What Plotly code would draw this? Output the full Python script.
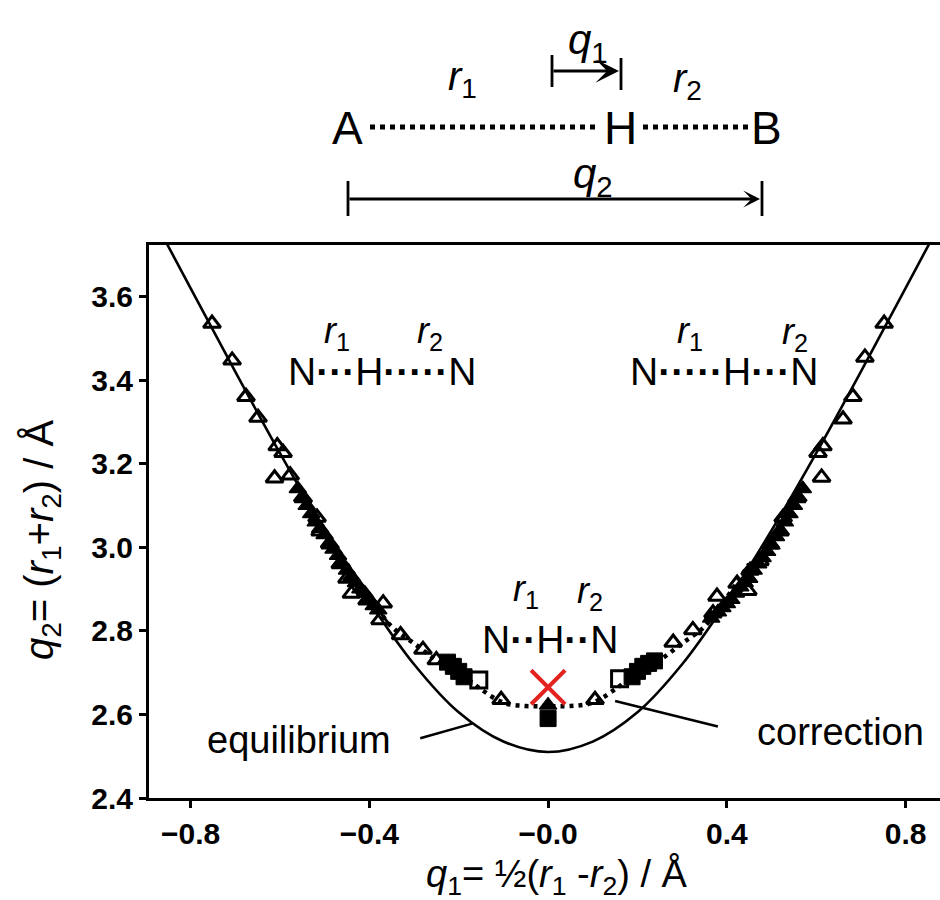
import plotly.graph_objects as go

# ---------------- data ----------------
eq_q1 = [-0.90, -0.80, -0.70, -0.60, -0.50, -0.40, -0.30, -0.20, -0.10, 0.00,
         0.10, 0.20, 0.30, 0.40, 0.50, 0.60, 0.70, 0.80, 0.90]
eq_q2 = [3.82, 3.62, 3.42, 3.225, 3.04, 2.87, 2.72, 2.605, 2.535, 2.51,
         2.535, 2.605, 2.72, 2.87, 3.04, 3.225, 3.42, 3.62, 3.82]

cor_q1 = [-0.45, -0.40, -0.35, -0.30, -0.25, -0.20, -0.15, -0.10, -0.05, 0.00,
          0.05, 0.10, 0.15, 0.20, 0.25, 0.30, 0.35, 0.40, 0.45]
cor_q2 = [2.96, 2.88, 2.81, 2.77, 2.73, 2.70, 2.66, 2.628, 2.62, 2.62,
          2.62, 2.628, 2.66, 2.70, 2.73, 2.77, 2.81, 2.88, 2.96]

tri_open_q1 = [-0.752, -0.707, -0.676, -0.649, -0.606, -0.593, -0.612, -0.577, -0.548,
               -0.517, -0.510, -0.488, -0.465, -0.450, -0.440, -0.405, -0.369, -0.376,
               -0.330, -0.280, -0.250, -0.105,
               0.752, 0.709, 0.682, 0.660, 0.615, 0.604, 0.612, 0.557, 0.526, 0.519,
               0.497, 0.474, 0.452, 0.447, 0.423, 0.378, 0.369, 0.324, 0.280, 0.105]
tri_open_q2 = [3.535, 3.447, 3.360, 3.310, 3.242, 3.226, 3.165, 3.172, 3.118,
               3.071, 3.038, 3.007, 2.960, 2.925, 2.889, 2.873, 2.866, 2.826,
               2.790, 2.755, 2.730, 2.635,
               3.535, 3.454, 3.360, 3.306, 3.242, 3.226, 3.167, 3.118, 3.071, 3.038,
               3.007, 2.967, 2.944, 2.896, 2.913, 2.882, 2.842, 2.802, 2.772, 2.635]

tri_fill_q1 = [-0.560, -0.550, -0.540, -0.530, -0.520, -0.510, -0.500, -0.490, -0.480,
               -0.470, -0.460, -0.450, -0.440, -0.430, -0.420, -0.410, -0.400, -0.390,
               -0.380,
               0.570, 0.560, 0.550, 0.540, 0.530, 0.520, 0.510, 0.500, 0.490, 0.480,
               0.470, 0.460, 0.450, 0.440, 0.430, 0.420, 0.410, 0.400, 0.390, 0.380,
               0.365, 0.000]
tri_fill_q2 = [3.140, 3.120, 3.100, 3.080, 3.060, 3.045, 3.030, 3.010, 2.995,
               2.980, 2.960, 2.945, 2.930, 2.915, 2.900, 2.890, 2.875, 2.860,
               2.850,
               3.140, 3.120, 3.100, 3.080, 3.060, 3.040, 3.025, 3.005, 2.990, 2.975,
               2.960, 2.945, 2.925, 2.915, 2.905, 2.890, 2.875, 2.865, 2.855, 2.845,
               2.830, 2.622]

sq_fill_q1 = [-0.225, -0.212, -0.200, -0.188, 0.188, 0.200, 0.212, 0.225, 0.238, 0.000]
sq_fill_q2 = [2.725, 2.715, 2.703, 2.690, 2.690, 2.703, 2.715, 2.722, 2.728, 2.590]

sq_open_q1 = [-0.155, 0.160]
sq_open_q2 = [2.682, 2.685]

x_mark_q1 = [0.0]
x_mark_q2 = [2.665]

x_ticks = [-0.8, -0.4, 0.0, 0.4, 0.8]
x_ticktext = ["\u22120.8", "\u22120.4", "\u22120.0", "0.4", "0.8"]
y_ticks = [2.4, 2.6, 2.8, 3.0, 3.2, 3.4, 3.6]
y_ticktext = ["2.4", "2.6", "2.8", "3.0", "3.2", "3.4", "3.6"]

# ---------------- layout geometry ----------------
W, H = 940, 900
L, R, T, B = 149, 0, 245, 102
PW, PH = W - L - R, H - T - B
X_RANGE = [-0.893, 0.877]
Y_RANGE = [2.4, 2.4 + PH / 418.0]


def ppx(px):
    return (px - L) / PW


def ppy(py):
    return (H - B - py) / PH


TXT = "Liberation Sans, Arial, sans-serif"
TICKF = "Liberation Sans Narrow, Arial Narrow, Liberation Sans, sans-serif"
BLACK = "black"

fig = go.Figure()

fig.add_trace(go.Scatter(x=eq_q1, y=eq_q2, mode="lines",
                         line=dict(color=BLACK, width=2.6, shape="spline"),
                         hoverinfo="skip", showlegend=False))
fig.add_trace(go.Scatter(x=cor_q1, y=cor_q2, mode="lines",
                         line=dict(color=BLACK, width=4.5, dash="4px,5px", shape="spline"),
                         hoverinfo="skip", showlegend=False))
fig.add_trace(go.Scatter(x=tri_fill_q1, y=tri_fill_q2, mode="markers",
                         marker=dict(symbol="triangle-up", size=15, color=BLACK,
                                     line=dict(color=BLACK, width=1.5)),
                         showlegend=False))
fig.add_trace(go.Scatter(x=tri_open_q1, y=tri_open_q2, mode="markers",
                         marker=dict(symbol="triangle-up-open", size=15, color=BLACK,
                                     line=dict(color=BLACK, width=3)),
                         showlegend=False))
fig.add_trace(go.Scatter(x=sq_fill_q1, y=sq_fill_q2, mode="markers",
                         marker=dict(symbol="square", size=16, color=BLACK,
                                     line=dict(color=BLACK, width=1)),
                         showlegend=False))
fig.add_trace(go.Scatter(x=sq_open_q1, y=sq_open_q2, mode="markers",
                         marker=dict(symbol="square-open", size=16, color=BLACK,
                                     line=dict(color=BLACK, width=3)),
                         showlegend=False))
fig.add_trace(go.Scatter(x=x_mark_q1, y=x_mark_q2, mode="markers",
                         marker=dict(symbol="x-thin-open", size=34, color="#e3231f",
                                     line=dict(color="#e3231f", width=4)),
                         showlegend=False))

shapes = []
annotations = []

# pointer lines
shapes.append(dict(type="line", xref="x", yref="y", x0=-0.286, y0=2.543, x1=-0.17, y1=2.578,
                   line=dict(color=BLACK, width=2.5)))
shapes.append(dict(type="line", xref="x", yref="y", x0=0.15, y0=2.632, x1=0.38, y1=2.571,
                   line=dict(color=BLACK, width=2.5)))


def txt(x, y, text, size=38, xref="x", yref="y", xanchor="center", yanchor="middle", angle=0):
    annotations.append(dict(x=x, y=y, xref=xref, yref=yref, text=text, showarrow=False,
                            xanchor=xanchor, yanchor=yanchor, textangle=angle,
                            font=dict(family=TXT, size=size, color=BLACK)))


txt(-0.557, 2.538, "equilibrium")
txt(0.655, 2.557, "correction")

D = "\u00b7"


def chain(a, b):
    return "N<b>" + D * a + "</b>H<b>" + D * b + "</b>N"


txt(-0.371, 3.421, chain(3, 5), size=39)
txt(-0.472, 3.512, "<i>r</i><sub>1</sub>", size=36)
txt(-0.264, 3.512, "<i>r</i><sub>2</sub>", size=36)
txt(0.394, 3.421, chain(5, 3), size=39)
txt(0.318, 3.512, "<i>r</i><sub>1</sub>", size=36)
txt(0.553, 3.510, "<i>r</i><sub>2</sub>", size=36)
txt(0.0045, 2.780, chain(2, 2), size=39)
txt(-0.05, 2.895, "<i>r</i><sub>1</sub>", size=36)
txt(0.094, 2.890, "<i>r</i><sub>2</sub>", size=36)

# ---------- top schematic A...H...B ----------
txt(ppx(347), ppy(128), "A", size=46, xref="paper", yref="paper")
txt(ppx(620), ppy(128), "H", size=46, xref="paper", yref="paper")
txt(ppx(766), ppy(128), "B", size=46, xref="paper", yref="paper")
txt(ppx(462), ppy(79), "<i>r</i><sub>1</sub>", size=40, xref="paper", yref="paper")
txt(ppx(687), ppy(81), "<i>r</i><sub>2</sub>", size=40, xref="paper", yref="paper")
txt(ppx(588), ppy(42), "<i>q</i><sub>1</sub>", size=42, xref="paper", yref="paper")
txt(ppx(593), ppy(176), "<i>q</i><sub>2</sub>", size=42, xref="paper", yref="paper")

shapes.append(dict(type="line", xref="paper", yref="paper", x0=ppx(370), y0=ppy(127),
                   x1=ppx(598), y1=ppy(127), line=dict(color=BLACK, width=5, dash="5px,5px")))
shapes.append(dict(type="line", xref="paper", yref="paper", x0=ppx(643), y0=ppy(127),
                   x1=ppx(750), y1=ppy(127), line=dict(color=BLACK, width=5, dash="5px,5px")))
# bars
for (bx, by0, by1) in [(552, 55, 87), (621, 58, 90), (348, 181, 216), (762, 181, 216)]:
    shapes.append(dict(type="line", xref="paper", yref="paper", x0=ppx(bx), y0=ppy(by0),
                       x1=ppx(bx), y1=ppy(by1), line=dict(color=BLACK, width=2.8)))
# arrows
annotations.append(dict(x=ppx(619), y=ppy(71), xref="paper", yref="paper", ax=552 - 619, ay=0,
                        text="", showarrow=True, arrowhead=3, arrowsize=1.4, arrowwidth=2.8,
                        arrowcolor=BLACK))
annotations.append(dict(x=ppx(760), y=ppy(199), xref="paper", yref="paper", ax=348 - 760, ay=0,
                        text="", showarrow=True, arrowhead=3, arrowsize=1.0, arrowwidth=2.8,
                        arrowcolor=BLACK))

# axis titles
txt(ppx(42), ppy(540),
    "<i>q</i><sub>2</sub>= (<i>r</i><sub>1</sub>+<i>r</i><sub>2</sub>) / Å",
    size=40, xref="paper", yref="paper", angle=-90)
txt(ppx(556), ppy(876),
    "<i>q</i><sub>1</sub>= ½(<i>r</i><sub>1</sub> -<i>r</i><sub>2</sub>) / Å",
    size=38, xref="paper", yref="paper")

fig.update_layout(
    width=W, height=H,
    margin=dict(l=L, r=R, t=T, b=B),
    paper_bgcolor="white", plot_bgcolor="white",
    font=dict(family=TXT, color=BLACK),
    showlegend=False,
    shapes=shapes, annotations=annotations,
    xaxis=dict(range=X_RANGE, tickvals=x_ticks, ticktext=x_ticktext, ticks="outside",
               ticklen=7, tickwidth=2.5, tickcolor=BLACK, showline=True, linewidth=3,
               linecolor=BLACK, mirror=True, showgrid=False, zeroline=False,
               tickfont=dict(family=TICKF, size=30, color=BLACK, weight="bold")),
    yaxis=dict(range=Y_RANGE, tickvals=y_ticks, ticktext=y_ticktext, ticks="outside",
               ticklen=7, tickwidth=2.5, tickcolor=BLACK, showline=True, linewidth=3,
               linecolor=BLACK, mirror=False, showgrid=False, zeroline=False,
               tickfont=dict(family=TICKF, size=30, color=BLACK, weight="bold")),
)

fig.write_html("out.html")
